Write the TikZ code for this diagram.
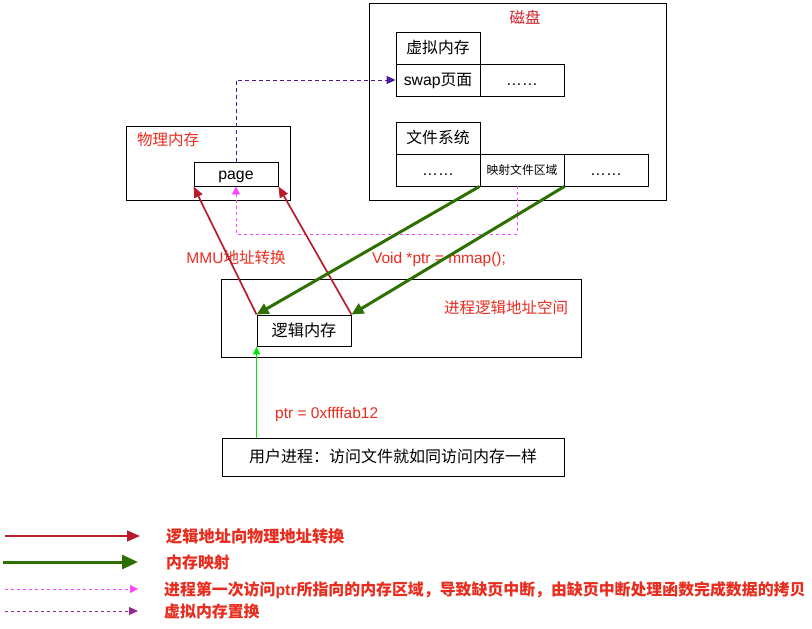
\documentclass[tikz,border=0pt]{standalone}
\usepackage{fontspec}
\setmainfont{Liberation Sans}
\newfontfamily\cjk{Noto Sans CJK SC}
\usetikzlibrary{arrows.meta}
\definecolor{lblred}{RGB}{232,44,30}
\definecolor{diskred}{RGB}{208,32,44}
\definecolor{arrred}{RGB}{182,30,44}
\definecolor{arrgreen}{RGB}{46,112,0}
\definecolor{pfmag}{RGB}{255,68,255}
\definecolor{swpur}{RGB}{76,26,150}
\definecolor{legpur}{RGB}{150,40,150}
\definecolor{ptrgreen}{RGB}{0,230,0}
\tikzset{
  box/.style={draw=black, line width=0.9pt, rectangle, inner sep=0pt, text height=11.3pt, text depth=0pt, font=\fontsize{15.8}{18}\selectfont},
  lbl/.style={text=lblred, inner sep=0pt, text height=11.5pt, text depth=0pt, font=\fontsize{15.5}{18}\selectfont},
  redarr/.style={draw=arrred, line width=1.7pt, -{Triangle[length=11pt,width=9pt]}},
  greenarr/.style={draw=arrgreen, line width=3pt, -{Triangle[length=12pt,width=11pt]}},
  magarr/.style={draw=pfmag, line width=0.8pt, dash pattern=on 3pt off 3pt, -{Triangle[length=8pt,width=8pt]}},
  purarr/.style={draw=swpur, line width=0.9pt, dash pattern=on 4pt off 3pt, -{Triangle[length=9pt,width=8pt]}},
  legtext/.style={text=lblred, anchor=west, inner sep=0pt, text height=11.5pt, text depth=0pt, font=\bfseries\fontsize{15.9}{18}\selectfont},
}
\begin{document}
\begin{tikzpicture}[x=1pt,y=-1pt]
\useasboundingbox (0,0) rectangle (812,629);
% disk
\node[box, minimum width=297pt, minimum height=197pt] (disk) at (517.5,101.5) {};
\node[lbl, text=diskred] (disklbl) at (525,18) {\cjk 磁盘};
\node[box, minimum width=84pt, minimum height=32pt] (vm) at (438,48) {\cjk 虚拟内存};
\node[box, minimum width=84pt, minimum height=32pt] (swap) at (438,80) {swap{\cjk 页面}};
\node[box, minimum width=84pt, minimum height=32pt] (swapd) at (522,80) {……};
\node[box, minimum width=84pt, minimum height=32pt] (fs) at (438,138) {\cjk 文件系统};
\node[box, minimum width=84pt, minimum height=32pt] (fsd1) at (438,170) {……};
\node[box, minimum width=84pt, minimum height=32pt, text height=8.5pt, font=\fontsize{11.8}{14}\selectfont] (fmap) at (522,170) {\cjk 映射文件区域};
\node[box, minimum width=84pt, minimum height=32pt] (fsd2) at (606,170) {……};
% physical memory
\node[box, minimum width=164pt, minimum height=74pt] (phys) at (208,163) {};
\node[lbl, anchor=west] (physlbl) at (137,140) {\cjk 物理内存};
\node[box, minimum width=84pt, minimum height=24pt] (page) at (236,174) {page};
% process
\node[box, minimum width=360pt, minimum height=78pt] (proc) at (401,318) {};
\node[lbl] (proclbl) at (506,308) {\cjk 进程逻辑地址空间};
\node[box, minimum width=94pt, minimum height=31pt, font=\fontsize{16.2}{18}\selectfont] (logic) at (304,330.5) {\cjk 逻辑内存};
% user
\node[box, minimum width=342pt, minimum height=38pt, font=\fontsize{16}{18}\selectfont] (user) at (393,457) {\cjk 用户进程：访问文件就如同访问内存一样};
% labels
\node[lbl] (mmu) at (236,258) {MMU{\cjk 地址转换}};
\node[lbl] (mmap) at (439,258) {Void *ptr = mmap();};
\node[lbl, anchor=west] (ptr) at (275,413) {ptr = 0xffffab12};
% connectors
\draw[purarr] (page.north) |- (swap.west);
\coordinate (fmapb) at ([xshift=-5pt]fmap.south);
\coordinate (magturn) at (517,234);
\draw[magarr] (fmapb) -- (magturn) -| (page.south);
\draw[redarr] (logic.north west) -- (page.south west);
\draw[redarr] (logic.north east) -- (page.south east);
\draw[greenarr] (fmap.south west) -- (logic.north west);
\draw[greenarr] (fmap.south east) -- (logic.north east);
\draw[draw=ptrgreen, line width=0.8pt, -{Triangle[length=8pt,width=7pt]}] (user.north -| logic.west) -- (logic.south west);
% legend
\coordinate (l1a) at (5,536); \coordinate (l1b) at (140,536);
\coordinate (l2a) at (3,562); \coordinate (l2b) at (138,562);
\coordinate (l3a) at (5,589); \coordinate (l3b) at (138,589);
\coordinate (l4a) at (5,611); \coordinate (l4b) at (138,611);
\draw[redarr, line width=1.4pt, -{Triangle[length=13pt,width=11pt]}] (l1a) -- (l1b);
\draw[greenarr, -{Triangle[length=16pt,width=14pt]}] (l2a) -- (l2b);
\draw[magarr] (l3a) -- (l3b);
\draw[draw=legpur, line width=0.9pt, dash pattern=on 3pt off 3pt, -{Triangle[length=9pt,width=8pt]}] (l4a) -- (l4b);
\node[legtext, font=\bfseries\fontsize{16.2}{20}\selectfont] (t1) at (166,537) {\cjk 逻辑地址向物理地址转换};
\node[legtext] (t2) at (166,563) {\cjk 内存映射};
\node[legtext] (t3) at (164,590) {{\cjk 进程第一次访问}ptr{\cjk 所指向的内存区域，导致缺页中断，由缺页中断处理函数完成数据的拷贝}};
\node[legtext] (t4) at (164,612) {\cjk 虚拟内存置换};
\end{tikzpicture}
\end{document}
